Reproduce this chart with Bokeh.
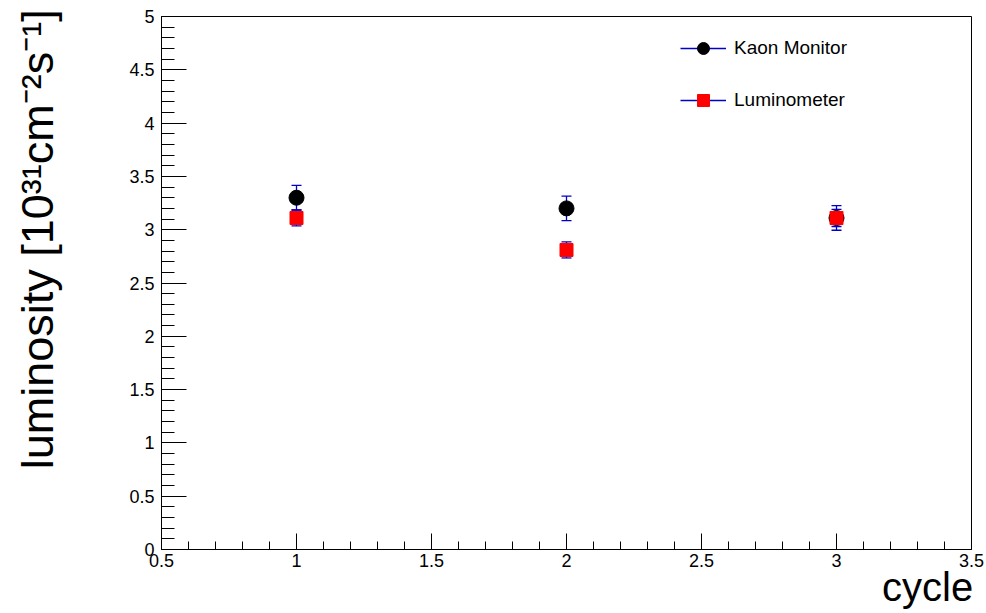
import numpy as np
from bokeh.plotting import figure
from bokeh.models import (ColumnDataSource, Range1d, FixedTicker, NumeralTickFormatter,
                          Legend, LegendItem, LinearAxis)
from bokeh.embed import file_html
from bokeh.resources import INLINE

# ---- data ----
cycles = [1, 2, 3]
kaon = [3.30, 3.20, 3.11]
kaon_err = [0.115, 0.115, 0.115]
lumi = [3.11, 2.81, 3.11]
lumi_err = [0.075, 0.075, 0.08]
series_names = ["Kaon Monitor", "Luminometer"]
x_ticks = [0.5, 1, 1.5, 2, 2.5, 3, 3.5]
y_ticks = [0, 0.5, 1, 1.5, 2, 2.5, 3, 3.5, 4, 4.5, 5]
x_label = "cycle"
y_label = "luminosity [10\u00b3\u00b9cm\u207b\u00b2s\u207b\u00b9]"

FONT = "Liberation Sans"
ERR = "#0000cc"
NBSP = "\u00a0"

def src(y, e):
    y = np.array(y, dtype=float)
    e = np.array(e, dtype=float)
    return ColumnDataSource(dict(x=cycles, y=y, lo=y - e, hi=y + e))

ks = src(kaon, kaon_err)
ls = src(lumi, lumi_err)

p = figure(width=986, height=613, output_backend="svg", toolbar_location=None,
           x_range=Range1d(0.5, 3.5), y_range=Range1d(0, 5),
           min_border_left=161, min_border_right=15, min_border_top=16, min_border_bottom=64)
p.background_fill_color = "white"
p.border_fill_color = "white"
p.grid.visible = False
p.outline_line_color = "black"
p.outline_line_alpha = 1.0
p.outline_line_width = 1

# axes
p.xaxis.ticker = FixedTicker(ticks=x_ticks,
                             minor_ticks=list(np.round(np.arange(0.5, 3.5001, 0.1), 3)))
p.yaxis.ticker = FixedTicker(ticks=y_ticks,
                             minor_ticks=list(np.round(np.arange(0, 5.0001, 0.1), 3)))
for ax in (p.xaxis, p.yaxis):
    ax.formatter = NumeralTickFormatter(format="0.[0]")
    ax.axis_line_color = "black"
    ax.major_tick_line_color = "black"
    ax.minor_tick_line_color = "black"
    ax.major_tick_out = 0
    ax.minor_tick_out = 0
    ax.major_label_text_font = FONT
    ax.major_label_text_font_size = "18px"
    ax.major_label_text_color = "black"
p.xaxis.major_tick_in = 16
p.xaxis.minor_tick_in = 8
p.xaxis.major_label_standoff = 4
p.yaxis.major_tick_in = 25
p.yaxis.minor_tick_in = 13
p.yaxis.major_label_standoff = 7

# label-only axes carrying the titles (leading no-break spaces shift the
# centred title toward the end of the axis, like the ROOT layout)
def title_axis(text, size, standoff):
    return LinearAxis(ticker=FixedTicker(ticks=[]), axis_label=text,
                      axis_line_color=None, major_tick_line_color=None,
                      minor_tick_line_color=None, major_tick_in=0, major_tick_out=0,
                      minor_tick_in=0, minor_tick_out=0, major_label_standoff=0,
                      axis_label_standoff=standoff, axis_label_text_font=FONT,
                      axis_label_text_font_size=size, axis_label_text_font_style="normal",
                      axis_label_text_color="black")

p.add_layout(title_axis(NBSP * 65 + x_label, "40px", -5), "below")
p.add_layout(title_axis(NBSP * 7 + y_label, "45px", 64), "left")

# Kaon Monitor
k_stem = p.segment(x0="x", y0="lo", x1="x", y1="hi", source=ks, line_color=ERR, line_width=1.3)
p.scatter(x="x", y="lo", source=ks, marker="dash", size=10, line_color=ERR, line_width=1.3)
p.scatter(x="x", y="hi", source=ks, marker="dash", size=10, line_color=ERR, line_width=1.3)
k_pts = p.scatter(x="x", y="y", source=ks, marker="circle", size=15,
                  fill_color="black", line_color="black")

# Luminometer
l_stem = p.segment(x0="x", y0="lo", x1="x", y1="hi", source=ls, line_color=ERR, line_width=1.3)
p.scatter(x="x", y="lo", source=ls, marker="dash", size=10, line_color=ERR, line_width=1.3)
p.scatter(x="x", y="hi", source=ls, marker="dash", size=10, line_color=ERR, line_width=1.3)
l_pts = p.scatter(x="x", y="y", source=ls, marker="square", size=13,
                  fill_color="#ff0000", line_color="#ff0000")

legend = Legend(items=[LegendItem(label=series_names[0], renderers=[k_stem, k_pts]),
                       LegendItem(label=series_names[1], renderers=[l_stem, l_pts])],
                location=(519, 434), glyph_width=46, glyph_height=30, label_height=30,
                spacing=22, padding=0, margin=0, label_standoff=8,
                border_line_color=None, background_fill_alpha=0,
                label_text_font=FONT, label_text_font_size="19px",
                label_text_color="black")
p.add_layout(legend)

open("out.html", "w").write(file_html(p, INLINE))
